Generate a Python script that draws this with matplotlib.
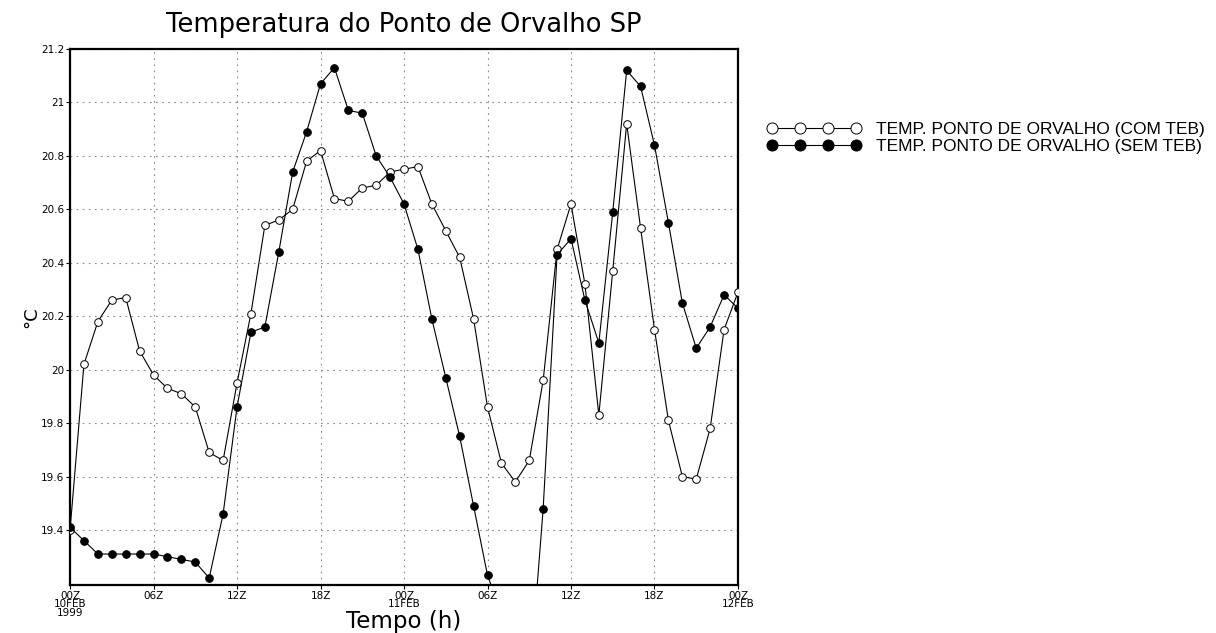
import numpy as np
import matplotlib
matplotlib.use("Agg")
import matplotlib.pyplot as plt
from matplotlib.lines import Line2D
from matplotlib.legend_handler import HandlerLine2D

# hourly series, 00Z 10FEB 1999 .. 00Z 12FEB 1999
horas = np.arange(49)

com_teb = [19.40, 20.02, 20.18, 20.26, 20.27, 20.07, 19.98, 19.93, 19.91, 19.86,
           19.69, 19.66, 19.95, 20.21, 20.54, 20.56, 20.60, 20.78, 20.82, 20.64,
           20.63, 20.68, 20.69, 20.74, 20.75, 20.76, 20.62, 20.52, 20.42, 20.19,
           19.86, 19.65, 19.58, 19.66, 19.96, 20.45, 20.62, 20.32, 19.83, 20.37,
           20.92, 20.53, 20.15, 19.81, 19.60, 19.59, 19.78, 20.15, 20.29]

sem_teb = [19.41, 19.36, 19.31, 19.31, 19.31, 19.31, 19.31, 19.30, 19.29, 19.28,
           19.22, 19.46, 19.86, 20.14, 20.16, 20.44, 20.74, 20.89, 21.07, 21.13,
           20.97, 20.96, 20.80, 20.72, 20.62, 20.45, 20.19, 19.97, 19.75, 19.49,
           19.23, 19.09, 18.90, 18.81, 19.48, 20.43, 20.49, 20.26, 20.10, 20.59,
           21.12, 21.06, 20.84, 20.55, 20.25, 20.08, 20.16, 20.28, 20.23]

xticks = [0, 6, 12, 18, 24, 30, 36, 42, 48]
xlabels = ["00Z\n10FEB\n1999", "06Z", "12Z", "18Z", "00Z\n11FEB", "06Z", "12Z", "18Z", "00Z\n12FEB"]
yticks = [19.4, 19.6, 19.8, 20.0, 20.2, 20.4, 20.6, 20.8, 21.0, 21.2]
ylabels = ["19.4", "19.6", "19.8", "20", "20.2", "20.4", "20.6", "20.8", "21", "21.2"]

fig = plt.figure(figsize=(12.16, 6.33), dpi=100)
ax = fig.add_axes([0.0576, 0.0758, 0.5493, 0.8468])

ax.plot(horas, com_teb, color="black", lw=0.8, marker="o", ms=5.5,
        mfc="white", mec="black", mew=0.7,
        label="TEMP. PONTO DE ORVALHO (COM TEB)", zorder=3)
ax.plot(horas, sem_teb, color="black", lw=0.8, marker="o", ms=5.5,
        mfc="black", mec="black", mew=0.7,
        label="TEMP. PONTO DE ORVALHO (SEM TEB)", zorder=4)

ax.set_xlim(0, 48)
ax.set_ylim(19.194, 21.2)
ax.set_xticks(xticks)
ax.set_xticklabels(xlabels, fontsize=7.5, linespacing=0.85)
ax.set_yticks(yticks)
ax.set_yticklabels(ylabels, fontsize=7.5)
ax.tick_params(direction="out", length=3, width=0.8, pad=1)
ax.grid(True, color="#888888", linestyle=(0, (1.5, 4)), lw=0.8)
for s in ax.spines.values():
    s.set_linewidth(1.6)

ax.set_title("Temperatura do Ponto de Orvalho SP", fontsize=18.5, pad=12)
ax.set_xlabel("Tempo (h)", fontsize=16.5, labelpad=-6)
ax.set_ylabel("°C", fontsize=13, labelpad=1)

leg = ax.legend(loc="upper left", bbox_to_anchor=(1.033, 0.864), frameon=False,
                numpoints=4, markerscale=1.45, handlelength=6.2, handletextpad=0.46,
                labelspacing=0.12, borderpad=0, borderaxespad=0,
                prop={"family": "Liberation Sans", "size": 12.5},
                handler_map={Line2D: HandlerLine2D(marker_pad=0.7)})

fig.savefig("out.png", dpi=100)
